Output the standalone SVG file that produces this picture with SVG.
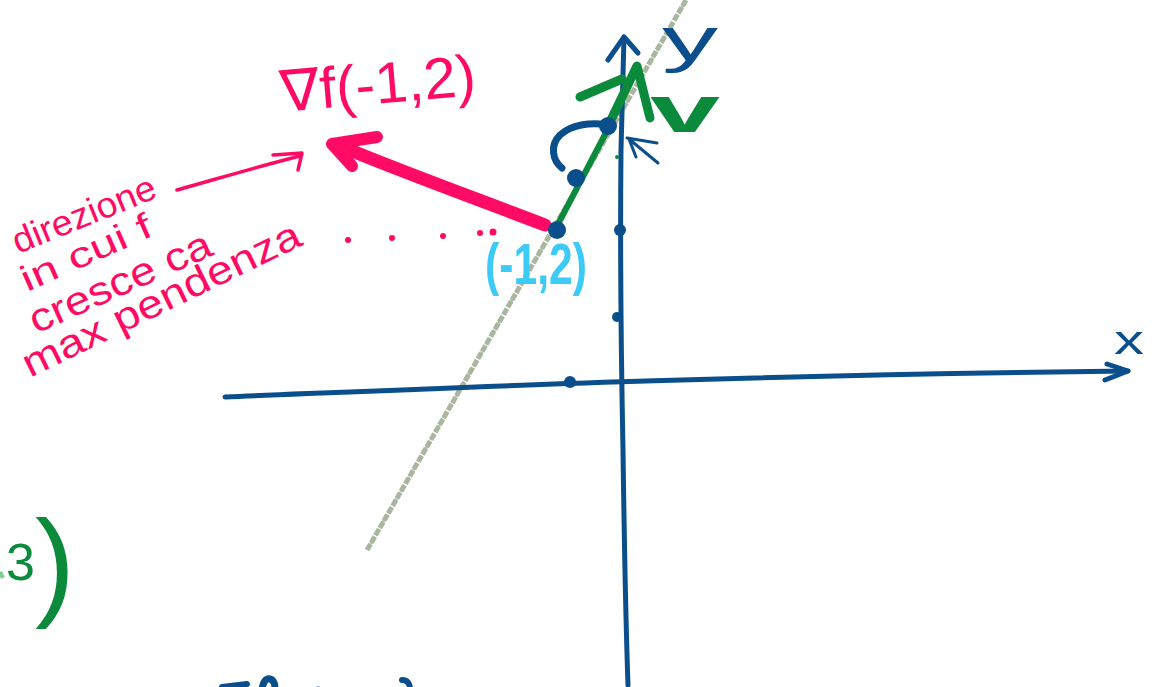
<svg xmlns="http://www.w3.org/2000/svg" width="1153" height="687" viewBox="0 0 1153 687">
<style>
.blue{fill:none;stroke:#0a4f8c;stroke-linecap:round;stroke-linejoin:round}
.green{fill:none;stroke:#0b8a3c;stroke-linecap:round;stroke-linejoin:round}
.pink{fill:none;stroke:#ff0a64;stroke-linecap:round;stroke-linejoin:round}
.hand{font-family:"Liberation Sans","DejaVu Sans",sans-serif}
.pinktxt{fill:#ff0a64}
.bluetxt{fill:#0a4f8c}
.greentxt{fill:#0b8a3c}
.cyantxt{fill:#3ccaf7}
</style>
<rect width="1153" height="687" fill="#ffffff"/>

<!-- pencil line -->
<g id="pencil-line">
<path d="M367,550 L686,0" fill="none" stroke="#8d9e7f" stroke-width="5" stroke-dasharray="7 1.5" opacity="0.75"/>
<path d="M368,548 L685,2" fill="none" stroke="#a9b89c" stroke-width="3" stroke-dasharray="2 3" opacity="0.9"/>
</g>

<g id="axes">
<g id="x-axis">
<path class="blue" stroke-width="5" d="M225,397 C450,388 700,376 1128,371"/>
<path class="blue" stroke-width="5" d="M1107,364 L1128,371 L1105,380"/>
<text class="hand bluetxt" x="1114" y="354" font-size="40" textLength="30" lengthAdjust="spacingAndGlyphs">x</text>
</g>
<g id="y-axis">
<path class="blue" stroke-width="5" d="M628,685 C625,600 624,520 623,450 C621,350 620,250 621,150 L624,37"/>
<path class="blue" stroke-width="5" d="M608,60 L624,37 L638,53"/>
<text class="hand bluetxt" x="662" y="60" font-size="62" textLength="56" lengthAdjust="spacingAndGlyphs">y</text>
</g>
<g id="ticks">
<circle cx="620" cy="230" r="6" fill="#0a4f8c"/>
<circle cx="617" cy="317" r="5" fill="#0a4f8c"/>
<circle cx="570" cy="382" r="6" fill="#0a4f8c"/>
</g>
</g>

<g id="connectors">
<g id="gradient-arrow">
<path class="pink" stroke-width="13" d="M545,225 C480,200 410,175 340,146"/>
<path class="pink" stroke-width="12" d="M377,137 L332,144 L352,166"/>
</g>
<g id="note-arrow">
<path class="pink" stroke-width="3.5" d="M177,190 C220,178 260,166 300,156"/>
<path class="pink" stroke-width="3.5" d="M273,155 L302,153 L298,170"/>
</g>
<g id="vector-v">
<path class="green" stroke-width="6" d="M556,228 L610,125"/>
<path class="green" stroke-width="9" d="M610,122 L637,66 L650,118"/>
<path class="green" stroke-width="9" d="M580,97 L622,79"/>
</g>
<g id="rotation-arrow">
<path class="blue" stroke-width="7" d="M562,168 C552,160 550,145 560,135 C572,124 592,122 608,125"/>
</g>
<g id="small-arrow">
<path class="blue" stroke-width="3" d="M627,138 L657,143 M629,139 L658,163 M629,139 L636,157"/>
<circle cx="617" cy="157" r="2" fill="#0b8a3c"/>
</g>
</g>

<g id="points">
<circle cx="608" cy="126" r="9" fill="#0a4f8c"/>
<circle cx="576" cy="178" r="9" fill="#0a4f8c"/>
<circle cx="557" cy="230" r="9" fill="#0a4f8c"/>
</g>

<g id="dots">
<circle cx="348" cy="240" r="3" fill="#ff0a64"/>
<circle cx="392" cy="238" r="3" fill="#ff0a64"/>
<circle cx="443" cy="236" r="3" fill="#ff0a64"/>
<circle cx="480" cy="233" r="3" fill="#ff0a64"/>
<circle cx="493" cy="232" r="3.5" fill="#ff0a64"/>
</g>

<g id="label-gradient">
<text class="hand pinktxt" x="282" y="112" font-size="58" textLength="196" lengthAdjust="spacingAndGlyphs" transform="rotate(-5 282 112)">∇f(-1,2)</text>
</g>

<g id="label-point">
<text class="hand cyantxt" x="485" y="284" font-size="58" font-weight="bold" textLength="102" lengthAdjust="spacingAndGlyphs">(-1,2)</text>
</g>

<g id="label-v">
<text class="hand greentxt" x="650" y="132" font-size="66" font-weight="bold" textLength="70" lengthAdjust="spacingAndGlyphs">v</text>
</g>

<g id="note">
<text class="hand pinktxt" x="18" y="254" font-size="36" textLength="152" lengthAdjust="spacingAndGlyphs" transform="rotate(-22 18 254)">direzione</text>
<text class="hand pinktxt" x="27" y="292" font-size="36" textLength="140" lengthAdjust="spacingAndGlyphs" transform="rotate(-24 27 292)">in cui f</text>
<text class="hand pinktxt" x="36" y="334" font-size="40" textLength="196" lengthAdjust="spacingAndGlyphs" transform="rotate(-24 36 334)">cresce ca</text>
<text class="hand pinktxt" x="30" y="378" font-size="40" textLength="305" lengthAdjust="spacingAndGlyphs" transform="rotate(-26 30 378)">max pendenza</text>
</g>

<g id="label-3">
<text class="hand greentxt" x="6" y="580"><tspan font-size="52">3</tspan><tspan font-size="120" dy="24">)</tspan></text>
<path d="M0,572 L3,578" fill="none" stroke="#7fcf9a" stroke-width="4"/>
</g>

<g id="bottom-fragments">
<path class="blue" stroke-width="6" d="M222,687 L247,684"/>
<path class="blue" stroke-width="7" d="M262,689 C263,682 266,678 270,679 C274,680 275,684 275,689"/>
<path d="M318,686 L318,688" fill="none" stroke="#8fb0d0" stroke-width="3"/>
<path class="blue" stroke-width="6" d="M402,680 C407,680 410,683 410,689"/>
</g>
</svg>
